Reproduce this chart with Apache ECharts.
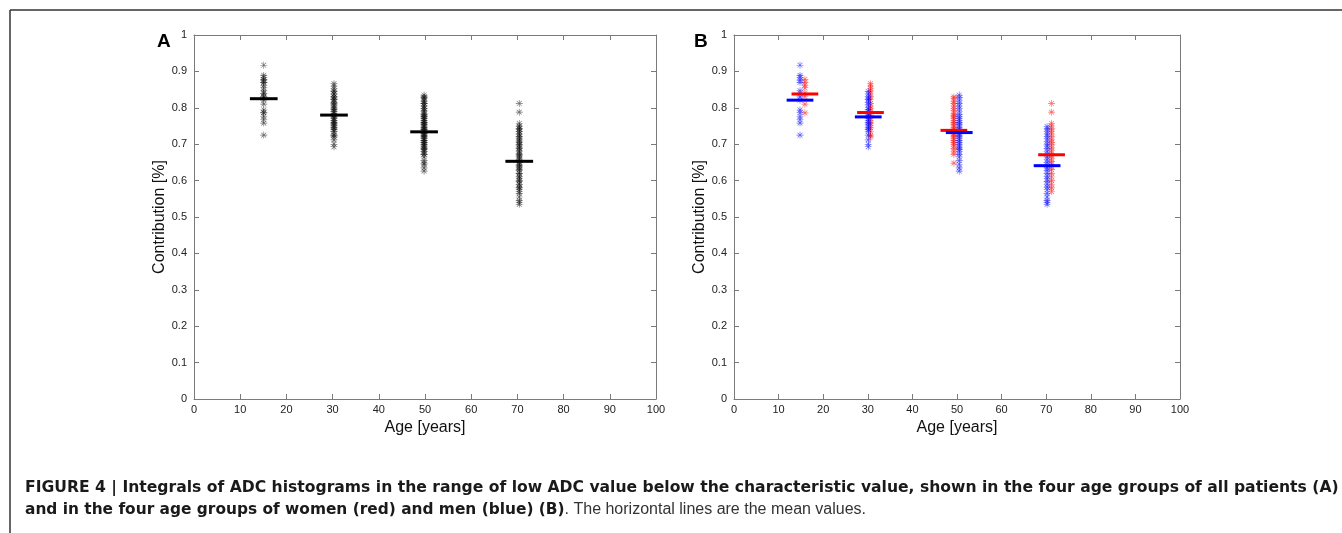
<!DOCTYPE html>
<html>
<head>
<meta charset="utf-8">
<script src="https://cdn.jsdelivr.net/npm/echarts@6/dist/echarts.min.js"></script>
<style>
html,body{margin:0;padding:0;background:#fff;}
#chart{width:1342px;height:533px;}
</style>
</head>
<body>
<div id="chart"></div>
<script>
// ---- data ----
const X_TICKS = [0,10,20,30,40,50,60,70,80,90,100];
const Y_TICKS = [0,0.1,0.2,0.3,0.4,0.5,0.6,0.7,0.8,0.9,1];

// plotted x position of each age group
const AGE_ALL   = [15.1, 30.3, 49.8, 70.4];
const AGE_WOMEN = [15.9, 30.6, 49.3, 71.2];
const AGE_MEN   = [14.8, 30.1, 50.5, 70.2];

// women (red)
const W15 = [0.878,0.870,0.862,0.855,0.840,0.831,0.810,0.786];
const W30 = [0.866,0.860,0.853,0.846,0.838,0.830,0.822,0.812,0.805,0.798,0.790,0.780,0.772,0.765,0.758,0.752,0.745,0.735,0.725,0.720];
const W50 = [0.830,0.825,0.818,0.812,0.805,0.798,0.792,0.785,0.780,0.775,0.770,0.765,0.760,0.755,0.750,0.745,0.740,0.735,0.730,0.725,0.720,0.715,0.710,0.705,0.700,0.695,0.688,0.680,0.672,0.648];
const W70 = [0.812,0.788,0.757,0.750,0.742,0.735,0.728,0.720,0.712,0.705,0.698,0.690,0.682,0.675,0.668,0.660,0.652,0.645,0.638,0.630,0.620,0.610,0.600,0.590,0.580,0.570];

// men (blue)
const M15 = [0.917,0.889,0.884,0.876,0.870,0.847,0.840,0.830,0.821,0.794,0.787,0.776,0.768,0.758,0.725];
const M30 = [0.845,0.838,0.830,0.824,0.822,0.815,0.808,0.800,0.795,0.790,0.785,0.780,0.775,0.770,0.765,0.760,0.755,0.750,0.745,0.740,0.735,0.725,0.712,0.700,0.693];
const M50 = [0.835,0.828,0.820,0.812,0.805,0.798,0.790,0.782,0.775,0.770,0.765,0.760,0.755,0.750,0.745,0.740,0.735,0.730,0.725,0.720,0.715,0.710,0.705,0.700,0.695,0.690,0.685,0.680,0.672,0.665,0.655,0.645,0.635,0.626];
const M70 = [0.748,0.742,0.735,0.728,0.722,0.715,0.708,0.700,0.695,0.688,0.680,0.672,0.665,0.658,0.650,0.642,0.635,0.628,0.620,0.612,0.605,0.598,0.590,0.582,0.575,0.565,0.555,0.545,0.540,0.535];

// mean values (horizontal lines)
const MEAN_ALL   = [0.825, 0.780, 0.734, 0.653];
const MEAN_WOMEN = [0.838, 0.787, 0.738, 0.671];
const MEAN_MEN   = [0.821, 0.775, 0.732, 0.641];

const WOMEN = [W15, W30, W50, W70];
const MEN   = [M15, M30, M50, M70];

// ---- build ----
function pts(ages, groups){
  const out = [];
  groups.forEach((g,i)=>g.forEach(v=>out.push([ages[i], v])));
  return out;
}
const ALL = WOMEN.map((w,i)=>w.concat(MEN[i]));

const STAR = 'path://M0,4.55L10,4.55L10,5.45L0,5.45Z M4.55,0L5.45,0L5.45,10L4.55,10Z M1.2,1.85L1.85,1.2L8.8,8.15L8.15,8.8Z M8.15,1.2L8.8,1.85L1.85,8.8L1.2,8.15Z';
const FONT = "'Liberation Sans', Arial, Helvetica, sans-serif";
const BFONT = "'DejaVu Sans', 'Liberation Sans', sans-serif";
const AX = '#7a7a7a';

function meanSeries(ages, means, color, xi, yi){
  return {
    type:'custom', coordinateSystem:'cartesian2d', xAxisIndex:xi, yAxisIndex:yi, z:5,
    data: ages.map((a,i)=>[a, means[i]]),
    encode:{x:0,y:1},
    renderItem:function(params, api){
      const x = api.value(0), y = api.value(1);
      const p1 = api.coord([x-3, y]), p2 = api.coord([x+3, y]);
      return {type:'line', shape:{x1:p1[0],y1:p1[1],x2:p2[0],y2:p2[1]},
              style:{stroke:color, lineWidth:3}};
    }
  };
}
function scatter(data, color, opacity, xi, yi){
  return {type:'scatter', xAxisIndex:xi, yAxisIndex:yi, symbol:STAR, symbolSize:7,
    data:data, itemStyle:{color:color, opacity:opacity}, z:3, silent:true};
}

function xAxes(gi){
  const base = {type:'value', gridIndex:gi, min:0, max:100, interval:10,
    axisLine:{show:true, onZero:false, lineStyle:{color:AX, width:1}},
    axisTick:{show:true, inside:true, length:5, lineStyle:{color:AX}},
    splitLine:{show:false}};
  return [
    Object.assign({}, base, {position:'bottom',
      axisLabel:{show:true, color:'#222', fontSize:11, fontFamily:FONT, margin:5,
        formatter:v=>String(v)},
      name:'Age [years]', nameLocation:'middle', nameGap:21,
      nameTextStyle:{color:'#111', fontSize:16, fontFamily:FONT}}),
    Object.assign({}, base, {position:'top', axisLabel:{show:false}})
  ];
}
function yAxes(gi){
  const base = {type:'value', gridIndex:gi, min:0, max:1, interval:0.1,
    axisLine:{show:true, onZero:false, lineStyle:{color:AX, width:1}},
    axisTick:{show:true, inside:true, length:5, lineStyle:{color:AX}},
    splitLine:{show:false}};
  return [
    Object.assign({}, base, {position:'left',
      axisLabel:{show:true, color:'#222', fontSize:11, fontFamily:FONT, margin:7,
        formatter:v=>String(Math.round(v*10)/10)},
      name:'Contribution [%]', nameLocation:'middle', nameGap:23,
      nameTextStyle:{color:'#111', fontSize:16, fontFamily:FONT}}),
    Object.assign({}, base, {position:'right', axisLabel:{show:false}})
  ];
}

const chart = echarts.init(document.getElementById('chart'), null, {renderer:'canvas'});
chart.setOption({
  backgroundColor:'#fff',
  animation:false,
  textStyle:{fontFamily:FONT},
  grid:[
    {left:194, top:35, width:462, height:364},
    {left:734, top:35, width:446, height:364}
  ],
  xAxis: xAxes(0).concat(xAxes(1)),
  yAxis: yAxes(0).concat(yAxes(1)),
  series:[
    scatter(pts(AGE_ALL, ALL), '#111', 0.6, 0, 0),
    meanSeries(AGE_ALL, MEAN_ALL, '#000', 0, 0),
    scatter(pts(AGE_WOMEN, WOMEN), '#ff0000', 0.6, 2, 2),
    scatter(pts(AGE_MEN, MEN), '#0000ff', 0.6, 2, 2),
    meanSeries(AGE_WOMEN, MEAN_WOMEN, '#ff0000', 2, 2),
    meanSeries(AGE_MEN, MEAN_MEN, '#0000ff', 2, 2)
  ],
  graphic:[
    {type:'line', shape:{x1:10,y1:10,x2:1342,y2:10}, style:{stroke:'#333', lineWidth:1.5}},
    {type:'line', shape:{x1:10,y1:10,x2:10,y2:533}, style:{stroke:'#333', lineWidth:1.5}},
    {type:'text', x:157, y:32, style:{text:'A', font:"bold 19px "+FONT, fill:'#000'}},
    {type:'text', x:694, y:32, style:{text:'B', font:"bold 19px "+FONT, fill:'#000'}},
    {type:'text', x:25, y:480, style:{
      text:'{b|FIGURE 4 | Integrals of ADC histograms in the range of low ADC value below the characteristic value, shown in the four age groups of all patients (A)}',
      rich:{b:{fontWeight:'bold', fontSize:15.6, fontFamily:BFONT, fill:'#1a1a1a'}}}},
    {type:'text', x:25, y:502, style:{
      text:'{b|and in the four age groups of women (red) and men (blue) (B)}{n|. The horizontal lines are the mean values.}',
      rich:{b:{fontWeight:'bold', fontSize:15.4, fontFamily:BFONT, fill:'#1a1a1a'},
            n:{fontWeight:'normal', fontSize:16, fontFamily:FONT, fill:'#333'}}}}
  ]
});
</script>
</body>
</html>
